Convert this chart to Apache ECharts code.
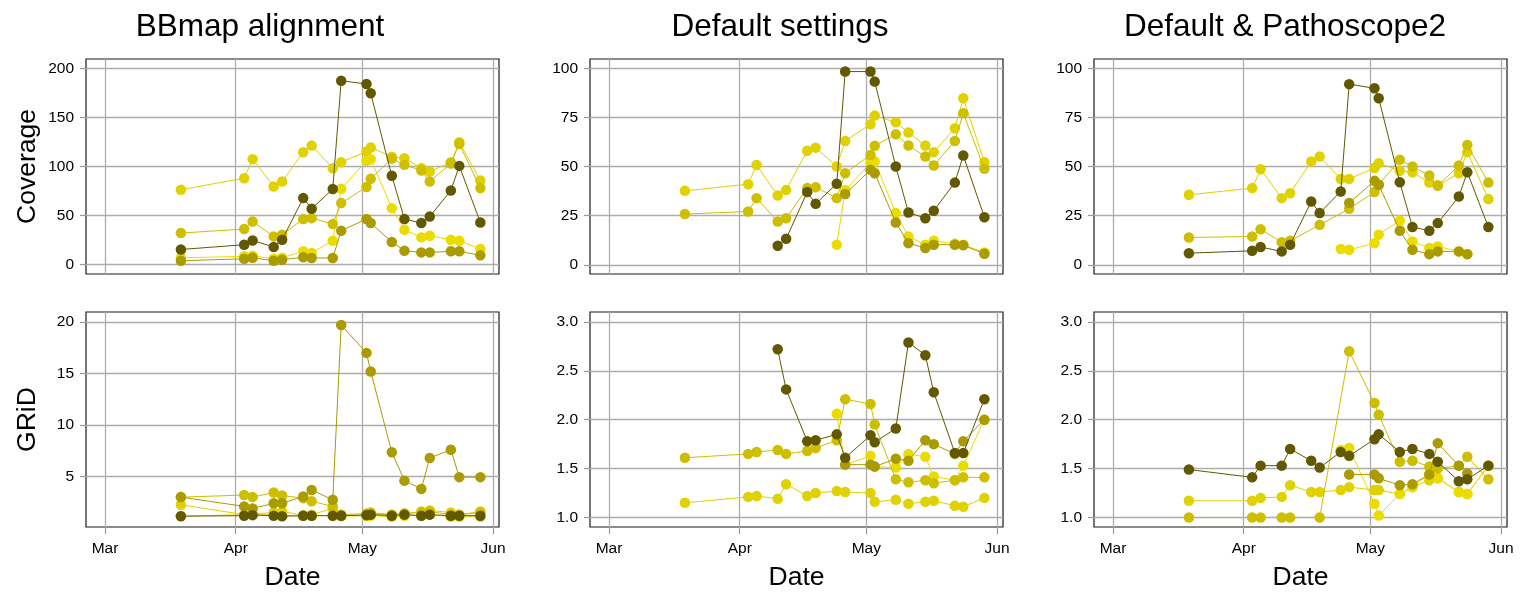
<!DOCTYPE html>
<html><head><meta charset="utf-8">
<script src="https://cdn.jsdelivr.net/npm/echarts@6/dist/echarts.min.js"></script>
<style>html,body{margin:0;padding:0;background:#fff}#c{width:1532px;height:592px}</style>
</head><body><div id="c"></div>
<script>
const n = null;
const dates = ['2021-03-19','2021-04-03','2021-04-05','2021-04-10','2021-04-12','2021-04-17','2021-04-19','2021-04-24','2021-04-26','2021-05-02','2021-05-03','2021-05-08','2021-05-11','2021-05-15','2021-05-17','2021-05-22','2021-05-24','2021-05-29'];
const panelTitles = ['BBmap alignment','Default settings','Default & Pathoscope2'];
const rowTitles = ['Coverage','GRiD'];
const xTitle = 'Date';
const monthTicks = ['2021-03-01','2021-04-01','2021-05-01','2021-06-01'];
const monthLabels = ['Mar','Apr','May','Jun'];
const seriesNames = ['bright','yellow','mid','olive','dark'];
const covTicksBB = [0,50,100,150,200];
const gridTicksBB = [5,10,15,20];
const covTicks = [0,25,50,75,100];
const gridTicks = [1.0,1.5,2.0,2.5,3.0];

// BBmap alignment - Coverage
const bbCovBright = [76.3,88.1,107.5,79.6,84.7,114.6,121.3,98.3,104.4,115.3,119.3,110,108.5,98.3,94.9,104.4,124.7,85.7];
const bbCovYellow = [7,8.5,9,6,7,13.6,11.9,24.4,77.3,105.7,107.5,57.6,35.6,27.8,29.5,25.4,24.4,16];
const bbCovMid    = [32.2,36.3,44,28.8,30.5,46.4,47.4,41.4,62.7,79,87.4,108,101.7,96,84.7,103,123,78];
const bbCovOlive  = [4,6,7,4,5,7.5,6.8,6.8,34.6,46.5,42.4,23.1,14.2,12.5,12.5,13.6,13.6,9.5];
const bbCovDark   = [15.5,20.3,24.7,18,25.4,67.8,57,77,187.4,184,174.6,90.5,46.5,42.4,49.1,75.5,100.6,43];
// BBmap alignment - GRiD
const bbGrdBright = [2.26,1.3,1.35,1.5,1.6,1.25,1.3,1.9,1.3,1.2,1.3,1.3,1.4,1.6,1.7,1.5,1.3,1.6];
const bbGrdYellow = [1.16,1.29,1.3,1.3,1.2,1.2,1.2,1.2,1.15,1.2,1.2,1.1,1.2,1.2,1.3,1.1,1.1,1.1];
const bbGrdMid    = [3.0,3.2,3.0,3.45,3.15,2.9,2.6,2.1,1.3,1.4,1.5,1.3,1.4,1.5,1.6,1.3,1.3,1.5];
const bbGrdOlive  = [3.0,2.1,1.9,2.4,2.4,3.06,3.7,2.74,19.7,17.0,15.2,7.35,4.6,3.8,6.8,7.6,4.94,4.94];
const bbGrdDark   = [1.15,1.2,1.25,1.2,1.15,1.2,1.2,1.2,1.2,1.25,1.3,1.2,1.3,1.2,1.3,1.2,1.2,1.2];
// Default settings - Coverage
const dfCovBright = [37.6,41,50.8,35.2,38.1,58,59.6,50,63,71.5,75.9,72.5,67.3,60.7,57.3,69.5,84.7,52.2];
const dfCovYellow = [n,n,n,n,n,n,n,10.2,38,51.7,52.5,26.3,14.4,10.2,12.2,10.7,10.2,6.3];
const dfCovMid    = [25.8,27.1,33.9,22,23.7,39,39.5,33.9,46.6,55.9,60.5,66.4,60.7,55.1,50.5,63,77.1,48.8];
const dfCovOlive  = [n,n,n,n,n,n,n,n,36,48.3,46.6,21.5,11,8.5,10.2,10.2,9.9,5.6];
const dfCovDark   = [n,n,n,9.7,13.2,37,31,41.2,98.3,98.3,93.2,50,26.6,23.7,27.5,41.8,55.6,24.2];
// Default settings - GRiD
const dfGrdBright = [1.15,1.21,1.22,1.19,1.34,1.22,1.25,1.27,1.26,1.25,1.16,1.18,1.14,1.16,1.17,1.12,1.11,1.2];
const dfGrdYellow = [n,n,n,n,n,n,n,2.06,1.54,1.63,1.52,1.51,1.65,1.62,1.42,1.38,1.53,2.0];
const dfGrdMid    = [1.61,1.65,1.67,1.69,1.65,1.68,1.71,1.79,2.21,2.16,1.95,1.39,1.36,1.38,1.35,1.38,1.41,1.41];
const dfGrdOlive  = [n,n,n,n,n,n,n,n,1.54,1.54,1.52,1.6,1.58,1.79,1.75,1.65,1.78,2.0];
const dfGrdDark   = [n,n,n,2.72,2.31,1.78,1.79,1.85,1.61,1.84,1.77,1.91,2.79,2.66,2.28,1.66,1.66,2.21];
// Default & Pathoscope2 - Coverage
const psCovBright = [35.6,39,48.6,33.9,36.4,52.5,55.1,43.7,43.7,49.2,51.7,47.8,47.1,41.8,40.3,46.6,57.3,33.5];
const psCovYellow = [n,n,n,n,n,n,n,8,7.6,11,15.3,22.5,11.9,8.5,9.3,6.8,5.4,n];
const psCovMid    = [13.9,14.4,18.1,11.5,12.2,n,20.3,n,28.5,37,40.7,53.4,50,45.4,40.3,50.5,61,41.8];
const psCovOlive  = [n,n,n,n,n,n,n,n,31.4,42.7,40.7,17.3,7.6,5.4,6.8,6.8,5.4,n];
const psCovDark   = [5.9,7.1,9,6.8,10.2,32.2,26.3,37.3,91.9,89.8,84.7,42,19.2,17.3,21.2,34.7,47.1,19.2];
// Default & Pathoscope2 - GRiD
const psGrdBright = [1.17,1.17,1.2,1.21,1.33,1.26,1.26,1.28,1.31,1.28,1.28,1.24,1.31,1.38,1.40,1.26,1.24,1.53];
const psGrdYellow = [n,n,n,n,n,n,n,1.69,1.71,1.14,1.02,1.24,1.31,1.44,1.40,1.26,1.24,1.53];
const psGrdMid    = [1.0,1.0,1.0,1.0,1.0,n,1.0,n,2.70,2.17,2.05,1.57,1.58,1.52,1.50,1.53,1.62,1.39];
const psGrdOlive  = [n,n,n,n,n,n,n,n,1.44,1.44,1.40,1.33,1.34,1.44,1.76,1.53,1.45,n];
const psGrdDark   = [1.49,1.41,1.53,1.53,1.70,1.58,1.51,1.67,1.63,1.80,1.85,1.67,1.70,1.65,1.57,1.37,1.39,1.53];

const panels = [
  [bbCovBright,bbCovYellow,bbCovMid,bbCovOlive,bbCovDark],
  [dfCovBright,dfCovYellow,dfCovMid,dfCovOlive,dfCovDark],
  [psCovBright,psCovYellow,psCovMid,psCovOlive,psCovDark],
  [bbGrdBright,bbGrdYellow,bbGrdMid,bbGrdOlive,bbGrdDark],
  [dfGrdBright,dfGrdYellow,dfGrdMid,dfGrdOlive,dfGrdDark],
  [psGrdBright,psGrdYellow,psGrdMid,psGrdOlive,psGrdDark]
];

const colors = ['#e0d100','#ebdc00','#cebe00','#a99b00','#625800'];
const FONT = '"Liberation Sans", Arial, Helvetica, sans-serif';
function ts(s){const p=s.split('-').map(Number);return new Date(p[0],p[1]-1,p[2]).getTime();}
const monthVals = monthTicks.map(ts);
const xMin = new Date(2021,1,24,12).getTime();
const xMax = new Date(2021,5,2,10).getTime();

const colLeft = [86,590,1094];
const rowTop = [59,312];
const W = 413, H = 215;
const yRanges = [
  [-9.5,209.5,covTicksBB, v=>String(v)],
  [-4.7,104.7,covTicks, v=>String(v)],
  [-4.7,104.7,covTicks, v=>String(v)],
  [0.1,20.97,gridTicksBB, v=>String(v)],
  [0.902,3.102,gridTicks, v=>v.toFixed(1)],
  [0.902,3.102,gridTicks, v=>v.toFixed(1)]
];

const grid=[],xAxis=[],yAxis=[],series=[];
for(let g=0;g<6;g++){
  const r=Math.floor(g/3), c=g%3, bottom=r===1;
  grid.push({left:colLeft[c],top:rowTop[r],width:W,height:H,show:true,borderColor:'#1a1a1a',borderWidth:1.2,backgroundColor:'#fff',containLabel:false});
  xAxis.push({type:'value',gridIndex:g,min:xMin,max:xMax,
    axisLine:{show:false},
    axisTick:{show:bottom,length:7,customValues:monthVals,lineStyle:{color:'#999',width:1.2}},
    axisLabel:{show:bottom,customValues:monthVals,formatter:v=>monthLabels[monthVals.indexOf(v)],fontSize:15.5,color:'#000',margin:14,fontFamily:FONT},
    splitLine:{show:true,lineStyle:{color:'#adadad',width:1.3}}});
  const yr=yRanges[g];
  yAxis.push({type:'value',gridIndex:g,min:yr[0],max:yr[1],
    axisLine:{show:false},
    axisTick:{show:true,length:6,customValues:yr[2],lineStyle:{color:'#999',width:1.2}},
    axisLabel:{customValues:yr[2],formatter:yr[3],fontSize:15.5,color:'#000',margin:12,fontFamily:FONT},
    splitLine:{show:true,lineStyle:{color:'#adadad',width:1.3}}});
  panels[g].forEach((arr,k)=>{
    series.push({type:'line',name:seriesNames[k],xAxisIndex:g,yAxisIndex:g,
      data:dates.map((d,i)=>[ts(d),arr[i]]).filter(p=>p[1]!==null),
      symbol:'circle',symbolSize:10.5,showSymbol:true,
      lineStyle:{width:1,color:colors[k]},itemStyle:{color:colors[k]},
      z:2+k,animation:false,silent:true});
  });
}

const graphic=[];
const titleX=[260,780,1285];
panelTitles.forEach((t,i)=>graphic.push({type:'text',x:titleX[i],y:27,style:{text:t,font:'31.5px '+FONT,fill:'#000',textAlign:'center',textVerticalAlign:'middle'}}));
rowTitles.forEach((t,i)=>graphic.push({type:'text',x:28,y:rowTop[i]+H/2,rotation:Math.PI/2,style:{text:t,font:'26.5px '+FONT,fill:'#000',textAlign:'center',textVerticalAlign:'middle'}}));
colLeft.forEach(l=>graphic.push({type:'text',x:l+W/2,y:578,style:{text:xTitle,font:'26.5px '+FONT,fill:'#000',textAlign:'center',textVerticalAlign:'middle'}}));

const chart=echarts.init(document.getElementById('c'),null,{renderer:'canvas'});
chart.setOption({animation:false,backgroundColor:'#fff',grid,xAxis,yAxis,series,graphic});
</script></body></html>
